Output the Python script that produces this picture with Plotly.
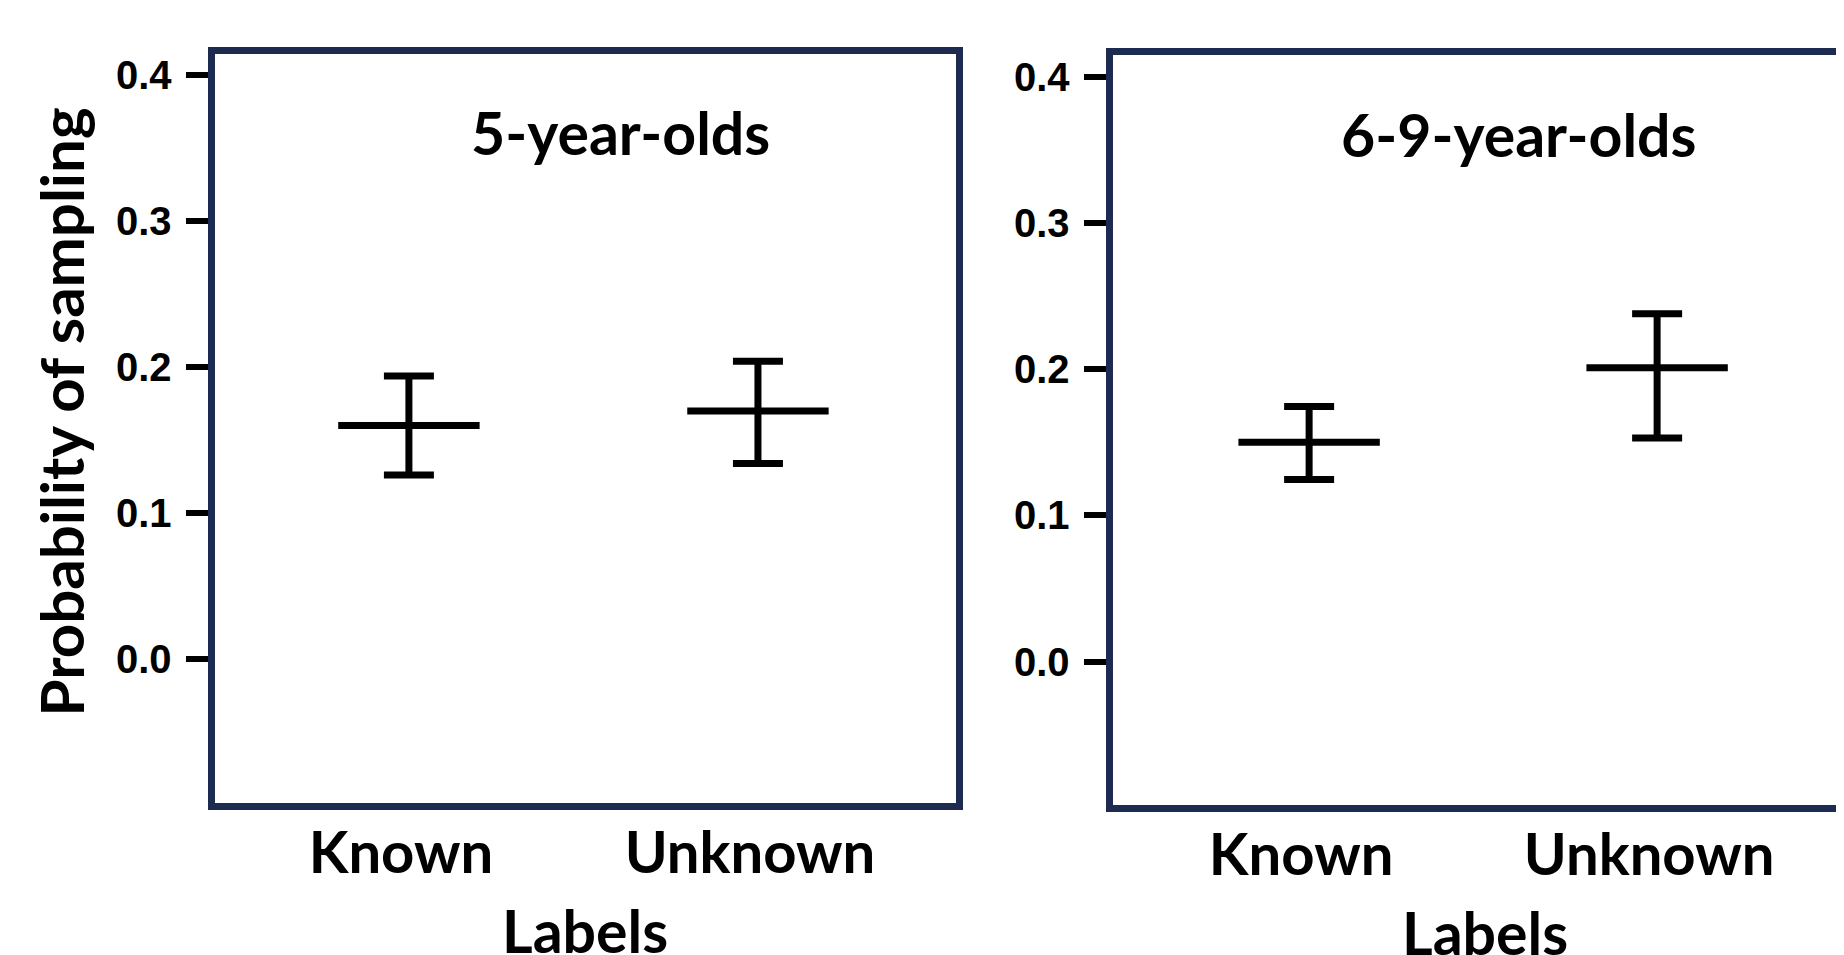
import plotly.graph_objects as go

# page offset of the plot div (default body margin) and figure size
OFF = 8
W, H = 1844 - OFF, 955 - OFF

# ---------------- data ----------------
categories = ["Known", "Unknown"]
panel_titles = ["5-year-olds", "6-9-year-olds"]

means_5 = [0.160, 0.170]
upper_5 = [0.194, 0.204]
lower_5 = [0.126, 0.134]

means_69 = [0.150, 0.201]
upper_69 = [0.1745, 0.238]
lower_69 = [0.1246, 0.153]

y_ticks = [0.0, 0.1, 0.2, 0.3, 0.4]
y_title = "Probability of sampling"
x_title = "Labels"

# ---------------- style ----------------
NAVY = "#1c2b4f"
FRAME_W = 7


def px(x):
    return (x - OFF) / W


def py(y):
    return 1 - (y - OFF) / H


fig = go.Figure()

panels = [
    (means_5, upper_5, lower_5, "x", "y"),
    (means_69, upper_69, lower_69, "x2", "y2"),
]
for means, up, lo, xa, ya in panels:
    fig.add_trace(go.Scatter(
        x=categories, y=means, mode="markers",
        marker=dict(symbol="line-ew", size=101, color="black",
                    line=dict(width=7, color="black")),
        error_y=dict(type="data", symmetric=False,
                     array=[u - m for u, m in zip(up, means)],
                     arrayminus=[m - l for m, l in zip(means, lo)],
                     color="black", thickness=7, width=25),
        xaxis=xa, yaxis=ya, showlegend=False, cliponaxis=False,
        hoverinfo="skip",
    ))

xfont = dict(family="Lato", size=58, color="black", weight="bold")
yfont = dict(family="Liberation Sans", size=40, color="black", weight="bold")

common_x = dict(type="category", showgrid=False, zeroline=False, ticks="",
                showline=True, linewidth=FRAME_W, linecolor=NAVY, mirror=True,
                tickfont=xfont, ticklabelstandoff=-6, ticklabelshift=-8)
common_y = dict(showgrid=False, zeroline=False, ticks="outside", ticklen=22,
                tickwidth=6, tickcolor="black", showline=True,
                linewidth=FRAME_W, linecolor=NAVY, tickvals=y_ticks,
                tickformat=".1f", tickfont=yfont, ticklabelstandoff=6)

fig.update_layout(
    width=W, height=H, margin=dict(l=0, r=0, t=0, b=0),
    paper_bgcolor="white", plot_bgcolor="white",
    xaxis=dict(domain=[px(214.5), px(955.5)], range=[-0.557, 1.566], anchor="y", **common_x),
    yaxis=dict(domain=[py(802.5), py(53.5)], range=[-0.0984, 0.415], anchor="x", mirror=True, **common_y),
    xaxis2=dict(domain=[px(1112.5), 1.0], range=[-0.565, 1.537], anchor="y2", **common_x),
    yaxis2=dict(domain=[py(804.5), py(54.5)], range=[-0.0978, 0.4154], anchor="x2", mirror=False, **common_y),
)

tfont = dict(family="Lato", size=59, color="black", weight="bold")
annotations = [
    dict(text=panel_titles[0], x=px(620), y=py(133), xref="paper", yref="paper",
         xanchor="center", yanchor="middle", showarrow=False, font=tfont),
    dict(text=panel_titles[1], x=px(1518), y=py(134), xref="paper", yref="paper",
         xanchor="center", yanchor="middle", showarrow=False, font=tfont),
    dict(text=x_title, x=px(585), y=py(930), xref="paper", yref="paper",
         xanchor="center", yanchor="middle", showarrow=False, font=tfont),
    dict(text=x_title, x=px(1485), y=py(932), xref="paper", yref="paper",
         xanchor="center", yanchor="middle", showarrow=False, font=tfont),
    dict(text=y_title, x=px(60.5), y=py(412), xref="paper", yref="paper",
         xanchor="center", yanchor="middle", showarrow=False, textangle=-90,
         font=dict(family="Lato", size=60, color="black", weight="bold")),
]
fig.update_layout(annotations=annotations)

fig.write_html("out.html")
